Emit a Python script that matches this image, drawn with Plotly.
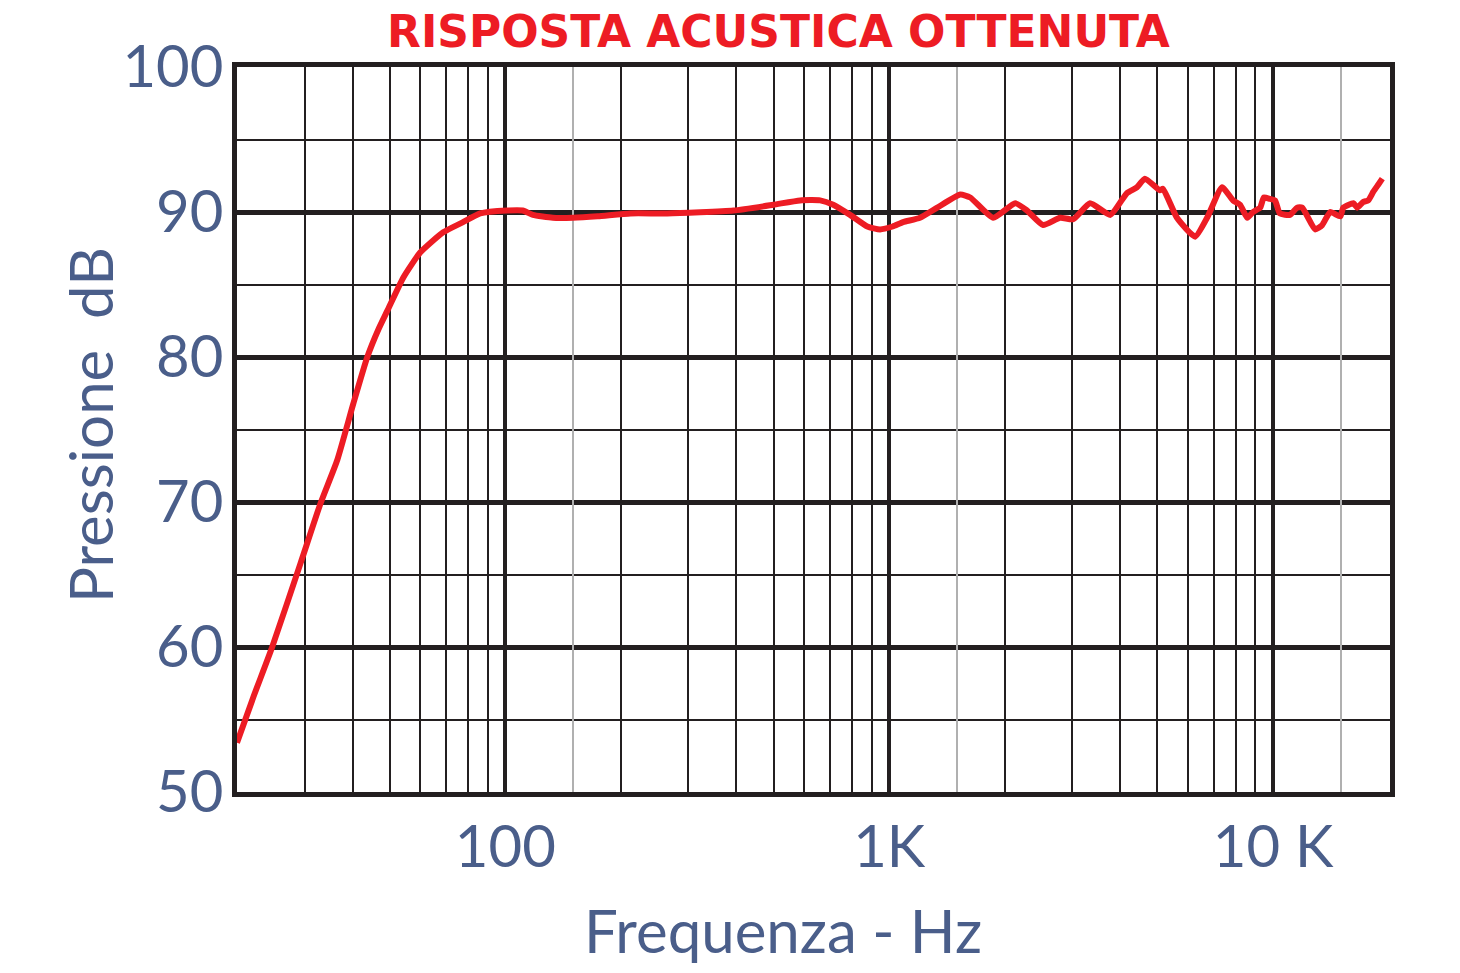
import math
import plotly.graph_objects as go

# ---- data ----
freq_hz = [20, 22.1, 24.7, 29.3, 33.0, 36.5, 40.2, 43.7, 46.7, 49.3, 54.3, 60.0,
           68.9, 77.6, 86, 101, 111, 118, 133, 150, 174, 212, 264, 393, 499, 586,
           661, 715, 791, 877, 947, 1021, 1087, 1203, 1334, 1532, 1626, 1867, 2130,
           2287, 2518, 2788, 3016, 3337, 3768, 4161, 4418, 4637, 5070, 5166, 5620,
           6265, 6733, 7365, 7870, 8206, 8572, 8870, 9256, 9466, 9820, 10120, 10420,
           11070, 11550, 11910, 12870, 13430, 14090, 14970, 15240, 16190, 16570,
           17190, 17700, 18250, 18810, 19260]
spl_db = [53.4, 56.6, 60.0, 65.8, 69.9, 72.9, 76.8, 80.0, 81.9, 83.2, 85.5, 87.2,
          88.6, 89.3, 89.9, 90.1, 90.1, 89.8, 89.6, 89.6, 89.7, 89.9, 89.9, 90.1, 90.5, 90.8,
          90.8, 90.5, 89.8, 89.0, 88.8, 89.0, 89.3, 89.6, 90.3, 91.2, 91.0, 89.6, 90.6,
          90.1, 89.1, 89.6, 89.5, 90.6, 89.8, 91.3, 91.7, 92.3, 91.5, 91.6, 89.6,
          88.3, 89.6, 91.7, 90.8, 90.5, 89.6, 90.0, 90.3, 91.0, 90.9, 90.8, 89.9,
          89.8, 90.3, 90.3, 88.8, 89.1, 90.0, 89.7, 90.3, 90.6, 90.3,
          90.7, 90.8, 91.4, 91.9, 92.3]

x_major_ticks = [100, 1000, 10000]
x_major_labels = ["100", "1K", "10 K"]
x_minor_ticks = [30, 40, 50, 60, 70, 80, 90,
                 200, 300, 400, 500, 600, 700, 800, 900,
                 2000, 3000, 4000, 5000, 6000, 7000, 8000, 9000]
x_grey_ticks = [150, 1500, 15000]
y_major_ticks = [50, 60, 70, 80, 90, 100]
y_minor_ticks = [55, 65, 75, 85, 95]
x_range_hz = [20, 20170]
y_range_db = [50, 100]

title_text = "RISPOSTA ACUSTICA OTTENUTA"
x_title = "Frequenza - Hz"
y_title = "Pressione\u00a0 dB"

INK = "#231f20"
BLUE = "#4a5e8a"
RED = "#ed1c24"
FONT = "Lato, 'Open Sans', sans-serif"

L, T, R, B = 237, 67, 70, 181
PW, PH = 1153, 725

fig = go.Figure()
fig.add_trace(go.Scatter(
    x=freq_hz, y=spl_db, mode="lines",
    line=dict(color=RED, width=6, shape="spline", smoothing=0.5),
    hoverinfo="skip", showlegend=False,
))

xr = [math.log10(v) for v in x_range_hz]

fig.update_layout(
    width=1460, height=973,
    margin=dict(l=L, r=R, t=T, b=B),
    paper_bgcolor="white", plot_bgcolor="white",
    showlegend=False,
    xaxis=dict(
        type="log", range=xr,
        tickmode="array", tickvals=x_major_ticks, ticktext=x_major_labels,
        showgrid=True, gridcolor=INK, gridwidth=4,
        minor=dict(tickmode="array", tickvals=x_minor_ticks, showgrid=True,
                   gridcolor=INK, gridwidth=1.8, ticks=""),
        showline=True, linecolor=INK, linewidth=5, mirror=True,
        ticks="", tickfont=dict(family=FONT, size=58, color=BLUE),
        ticklabelstandoff=0,
        zeroline=False,
    ),
    xaxis2=dict(
        type="log", range=xr, overlaying="x",
        tickmode="array", tickvals=x_grey_ticks, showticklabels=False,
        showgrid=True, gridcolor="#b0b0b0", gridwidth=1.5,
        ticks="", zeroline=False, showline=False,
    ),
    yaxis=dict(
        range=y_range_db,
        tickmode="array", tickvals=y_major_ticks,
        showgrid=True, gridcolor=INK, gridwidth=5,
        minor=dict(tickmode="array", tickvals=y_minor_ticks, showgrid=True,
                   gridcolor=INK, gridwidth=2.2, ticks=""),
        showline=True, linecolor=INK, linewidth=5, mirror=True,
        ticks="", tickfont=dict(family=FONT, size=58, color=BLUE),
        ticklabelstandoff=-3,
        zeroline=False,
    ),
    annotations=[
        dict(text=title_text, xref="paper", yref="paper",
             x=(778 - 237) / PW, y=(792 - 32) / PH,
             xanchor="center", yanchor="middle", showarrow=False,
             font=dict(family="'DejaVu Sans', sans-serif", size=44, color=RED,
                       weight="bold")),
        dict(text=x_title, xref="paper", yref="paper",
             x=(783 - 237) / PW, y=(792 - 930) / PH,
             xanchor="center", yanchor="middle", showarrow=False,
             font=dict(family=FONT, size=60, color=BLUE)),
        dict(text=y_title, xref="paper", yref="paper",
             x=(90 - 237) / PW, y=(792 - 425) / PH,
             xanchor="center", yanchor="middle", showarrow=False, textangle=-90,
             font=dict(family=FONT, size=60, color=BLUE)),
    ],
)
# attach an invisible trace to xaxis2 so its grid is drawn
fig.add_trace(go.Scatter(x=[x_range_hz[0]], y=[y_range_db[0]], xaxis="x2",
                         mode="markers", marker=dict(opacity=0),
                         hoverinfo="skip", showlegend=False))

fig.write_html("out.html",
               config={"displayModeBar": False},
               post_script="document.body.style.margin='0px';")
